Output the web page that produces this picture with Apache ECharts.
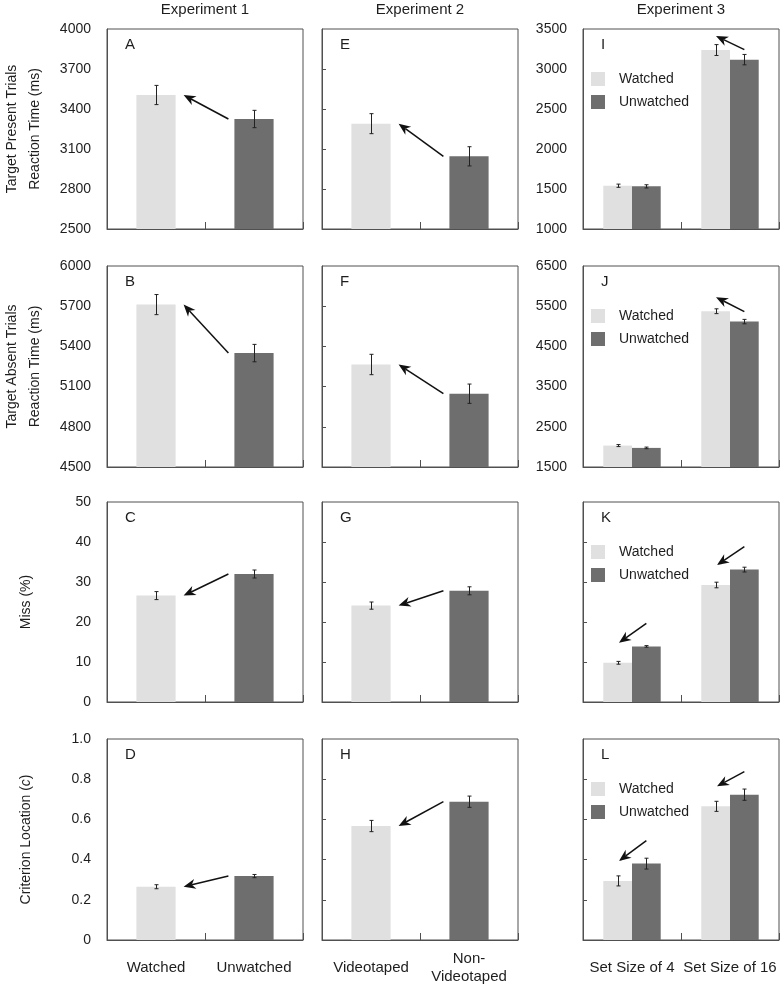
<!DOCTYPE html>
<html><head><meta charset="utf-8">
<script src="https://cdn.jsdelivr.net/npm/echarts@6/dist/echarts.min.js"></script>
<style>html,body{margin:0;padding:0;background:#fff}#c{width:784px;height:990px}</style>
</head><body><div id="c"></div>
<script>
// ---------------- DATA ----------------
const cats1 = ['Watched', 'Unwatched'];
const cats2 = ['Videotaped', 'Non-\nVideotaped'];
const cats3 = ['Set Size of 4', 'Set Size of 16'];
const expTitles = ['Experiment 1', 'Experiment 2', 'Experiment 3'];
const panelLetters = ['A','E','I','B','F','J','C','G','K','D','H','L'];
const legendNames = ['Watched', 'Unwatched'];

// tick labels
const ticksPresent = [2500, 2800, 3100, 3400, 3700, 4000];
const ticksAbsent = [4500, 4800, 5100, 5400, 5700, 6000];
const ticksPresent3 = [1000, 1500, 2000, 2500, 3000, 3500];
const ticksAbsent3 = [1500, 2500, 3500, 4500, 5500, 6500];
const ticksMiss = [0, 10, 20, 30, 40, 50];
const ticksCrit = [0, 0.2, 0.4, 0.6, 0.8, 1.0];

// Experiment 1 (Watched, Unwatched)
const e1Present = [3505, 3325], e1PresentErr = [72, 65];
const e1Absent = [5712, 5350], e1AbsentErr = [75, 65];
const e1Miss = [26.6, 32.0], e1MissErr = [1.0, 1.0];
const e1Crit = [0.265, 0.318], e1CritErr = [0.010, 0.008];
// Experiment 2 (Videotaped, Non-Videotaped)
const e2Present = [3290, 3045], e2PresentErr = [75, 72];
const e2Absent = [5265, 5047], e2AbsentErr = [76, 72];
const e2Miss = [24.1, 27.8], e2MissErr = [0.9, 1.0];
const e2Crit = [0.567, 0.688], e2CritErr = [0.028, 0.028];
// Experiment 3 (Set size 4, Set size 16)
const e3PresentW = [1541, 3237], e3PresentWErr = [20, 68];
const e3PresentU = [1533, 3117], e3PresentUErr = [20, 65];
const e3AbsentW = [2033, 5375], e3AbsentWErr = [25, 60];
const e3AbsentU = [1975, 5117], e3AbsentUErr = [20, 55];
const e3MissW = [9.8, 29.25], e3MissWErr = [0.35, 0.7];
const e3MissU = [13.9, 33.1], e3MissUErr = [0.2, 0.6];
const e3CritW = [0.294, 0.665], e3CritWErr = [0.025, 0.025];
const e3CritU = [0.38, 0.723], e3CritUErr = [0.027, 0.028];

// ---------------- STYLE / LAYOUT ----------------
const FONT = 'Liberation Sans, Arial, sans-serif';
const LIGHT = '#e0e0e0', DARK = '#6e6e6e', AXIS = '#505050', TEXT = '#1e1e1e';
const colLeft = [107, 322, 583], colWidth = 196;
const rowTop = [29, 266, 502, 739], rowHeight = [200, 201, 200, 201];
const SINGLE_FRAC = 0.40, PAIR_FRAC = 0.293;

const rowsCfg = [
  {ticks: ticksPresent, ticks3: ticksPresent3, lab3: true, name: 'Target Present Trials\nReaction Time (ms)', gap: 60},
  {ticks: ticksAbsent, ticks3: ticksAbsent3, lab3: true, name: 'Target Absent Trials\nReaction Time (ms)', gap: 60},
  {ticks: ticksMiss, ticks3: ticksMiss, lab3: false, name: 'Miss (%)', gap: 69},
  {ticks: ticksCrit, ticks3: ticksCrit, lab3: false, name: 'Criterion Location ({i|c})', gap: 69,
   fmt: v => v === 0 ? '0' : v.toFixed(1)}
];
// panel data per row: [exp1, exp2, exp3]
const rowData = [
  [[e1Present, e1PresentErr], [e2Present, e2PresentErr], [e3PresentW, e3PresentWErr, e3PresentU, e3PresentUErr]],
  [[e1Absent, e1AbsentErr], [e2Absent, e2AbsentErr], [e3AbsentW, e3AbsentWErr, e3AbsentU, e3AbsentUErr]],
  [[e1Miss, e1MissErr], [e2Miss, e2MissErr], [e3MissW, e3MissWErr, e3MissU, e3MissUErr]],
  [[e1Crit, e1CritErr], [e2Crit, e2CritErr], [e3CritW, e3CritWErr, e3CritU, e3CritUErr]]
];
const colCats = [cats1, cats2, cats3];

function errSeries(gi, vals, errs, sign, frac) {
  return {
    type: 'custom', xAxisIndex: gi, yAxisIndex: gi, z: 10, silent: true,
    data: vals.map((v, k) => [k, v, errs[k]]),
    encode: {x: 0, y: 1},
    renderItem: function (params, api) {
      const cat = api.value(0), val = api.value(1), err = api.value(2);
      const band = api.size([1, 0])[0];
      const cx = Math.round(api.coord([cat, val])[0] + sign * band * frac / 2) + 0.5;
      const yHi = api.coord([cat, val + err])[1];
      const yLo = api.coord([cat, val - err])[1];
      const cap = 2;
      const st = {stroke: '#222', lineWidth: 1};
      return {type: 'group', children: [
        {type: 'line', shape: {x1: cx, y1: yHi, x2: cx, y2: yLo}, style: st},
        {type: 'line', shape: {x1: cx - cap, y1: yHi, x2: cx + cap, y2: yHi}, style: st},
        {type: 'line', shape: {x1: cx - cap, y1: yLo, x2: cx + cap, y2: yLo}, style: st}
      ]};
    }
  };
}

const grids = [], xAxes = [], yAxes = [], series = [], legends = [], graphics = [];
for (let r = 0; r < 4; r++) {
  for (let c = 0; c < 3; c++) {
    const gi = r * 3 + c;
    const rc = rowsCfg[r];
    const ticks = c === 2 ? rc.ticks3 : rc.ticks;
    const labeled = c === 0 || (c === 2 && rc.lab3);
    grids.push({left: colLeft[c], top: rowTop[r], width: colWidth, height: rowHeight[r],
      show: true, borderColor: AXIS, borderWidth: 1, backgroundColor: 'transparent', outerBoundsMode: 'none'});
    xAxes.push({
      type: 'category', gridIndex: gi, data: colCats[c],
      axisLine: {show: true, lineStyle: {color: AXIS, width: 1}},
      axisTick: {show: true, inside: true, length: 7, alignWithLabel: false, interval: 0, lineStyle: {color: AXIS}},
      axisLabel: {show: r === 3, interval: 0, margin: 28, verticalAlign: 'middle', fontFamily: FONT, fontSize: 15,
        lineHeight: 18, color: TEXT},
      splitLine: {show: false}
    });
    const y = {
      type: 'value', gridIndex: gi, min: ticks[0], max: ticks[ticks.length - 1],
      axisLine: {show: true, lineStyle: {color: AXIS, width: 1}},
      splitLine: {show: false}
    };
    if (labeled) {
      y.axisLabel = {show: true, customValues: ticks, margin: 16, fontFamily: FONT, fontSize: 14, color: TEXT,
        formatter: rc.fmt || (v => String(v))};
      y.axisTick = {show: false};
    } else {
      y.axisLabel = {show: false};
      y.axisTick = {show: true, inside: true, length: 4, customValues: ticks.slice(1, -1), lineStyle: {color: AXIS}};
    }
    if (c === 0) {
      y.name = rc.name;
      y.nameLocation = 'middle';
      y.nameGap = rc.gap;
      y.nameTextStyle = {fontFamily: FONT, fontSize: 14, color: TEXT, lineHeight: 23,
        rich: {i: {fontFamily: FONT, fontSize: 14, color: TEXT, fontStyle: 'italic'}}};
    }
    yAxes.push(y);

    const d = rowData[r][c];
    if (c < 2) {
      series.push({type: 'bar', name: legendNames[0], xAxisIndex: gi, yAxisIndex: gi, data: [d[0][0], '-'],
        barWidth: (SINGLE_FRAC * 100) + '%', barGap: '-100%', itemStyle: {color: LIGHT}, silent: true});
      series.push({type: 'bar', name: legendNames[1], xAxisIndex: gi, yAxisIndex: gi, data: ['-', d[0][1]],
        barWidth: (SINGLE_FRAC * 100) + '%', barGap: '-100%', itemStyle: {color: DARK}, silent: true});
      series.push(errSeries(gi, d[0], d[1], 0, SINGLE_FRAC));
    } else {
      series.push({type: 'bar', name: legendNames[0], xAxisIndex: gi, yAxisIndex: gi, data: d[0],
        barWidth: (PAIR_FRAC * 100) + '%', barGap: '0%', itemStyle: {color: LIGHT}, silent: true});
      series.push({type: 'bar', name: legendNames[1], xAxisIndex: gi, yAxisIndex: gi, data: d[2],
        barWidth: (PAIR_FRAC * 100) + '%', barGap: '0%', itemStyle: {color: DARK}, silent: true});
      series.push(errSeries(gi, d[0], d[1], -1, PAIR_FRAC));
      series.push(errSeries(gi, d[2], d[3], 1, PAIR_FRAC));
      legends.push({data: legendNames, orient: 'vertical', left: colLeft[c] + 3, top: rowTop[r] + 38,
        itemWidth: 14, itemHeight: 14, itemGap: 9, icon: 'rect', selectedMode: false,
        textStyle: {fontFamily: FONT, fontSize: 14, color: TEXT, lineHeight: 14, padding: [0, 0, 0, 9]}});
    }
    graphics.push({type: 'text', x: colLeft[c] + 18, y: rowTop[r] + 16, silent: true,
      style: {text: panelLetters[gi], font: '15px ' + FONT, fill: TEXT, align: 'left', verticalAlign: 'middle',
        textAlign: 'left', textVerticalAlign: 'middle'}});
  }
}
for (let c = 0; c < 3; c++) {
  graphics.push({type: 'text', x: colLeft[c] + colWidth / 2, y: 10, silent: true,
    style: {text: expTitles[c], font: '15px ' + FONT, fill: TEXT, align: 'center', verticalAlign: 'middle',
      textAlign: 'center', textVerticalAlign: 'middle'}});
}

const chart = echarts.init(document.getElementById('c'), null, {renderer: 'canvas'});
chart.setOption({
  animation: false, backgroundColor: '#fff',
  textStyle: {fontFamily: FONT},
  grid: grids, xAxis: xAxes, yAxis: yAxes, series: series, legend: legends, graphic: graphics
});

// ---------------- ARROWS (annotations anchored to bar tops) ----------------
function bar(gi, cat, value, sign, frac) {
  const p0 = chart.convertToPixel({gridIndex: gi}, [0, value]);
  const p1 = chart.convertToPixel({gridIndex: gi}, [1, value]);
  const band = Math.abs(p1[0] - p0[0]);
  const p = chart.convertToPixel({gridIndex: gi}, [cat, value]);
  const w = band * frac;
  const cx = p[0] + sign * w / 2;
  return {left: cx - w / 2, right: cx + w / 2, center: cx, top: p[1]};
}
function arrow(tail, head) {
  const dx = head[0] - tail[0], dy = head[1] - tail[1];
  const len = Math.hypot(dx, dy), ux = dx / len, uy = dy / len, nx = -uy, ny = ux;
  const L = 12, W = 5;
  const bx = head[0] - ux * L, by = head[1] - uy * L;
  const mx = head[0] - ux * L * 0.7, my = head[1] - uy * L * 0.7;
  return [
    {type: 'line', silent: true, shape: {x1: tail[0], y1: tail[1], x2: mx, y2: my},
     style: {stroke: '#111', lineWidth: 1.5}},
    {type: 'polygon', silent: true, shape: {points: [head, [bx + nx * W, by + ny * W], [mx, my], [bx - nx * W, by - ny * W]]},
     style: {fill: '#111'}}
  ];
}
const arrowEls = [];
for (let r = 0; r < 4; r++) {
  for (let c = 0; c < 3; c++) {
    const gi = r * 3 + c;
    const d = rowData[r][c];
    if (c < 2) {
      const L = bar(gi, 0, d[0][0], 0, SINGLE_FRAC), D = bar(gi, 1, d[0][1], 0, SINGLE_FRAC);
      arrowEls.push(...arrow([D.left - 6, D.top], [L.right + 8, L.top]));
    } else {
      const cats = r < 2 ? [1] : [0, 1];
      cats.forEach(k => {
        const L = bar(gi, k, d[0][k], -1, PAIR_FRAC), D = bar(gi, k, d[2][k], 1, PAIR_FRAC);
        if (r < 2) arrowEls.push(...arrow([D.center, D.top - 10], [L.right - 14, L.top - 14]));
        else arrowEls.push(...arrow([D.center, D.top - 23], [L.right - 13, L.top - 20]));
      });
    }
  }
}
chart.setOption({graphic: graphics.concat(arrowEls)});
</script>
</body></html>
